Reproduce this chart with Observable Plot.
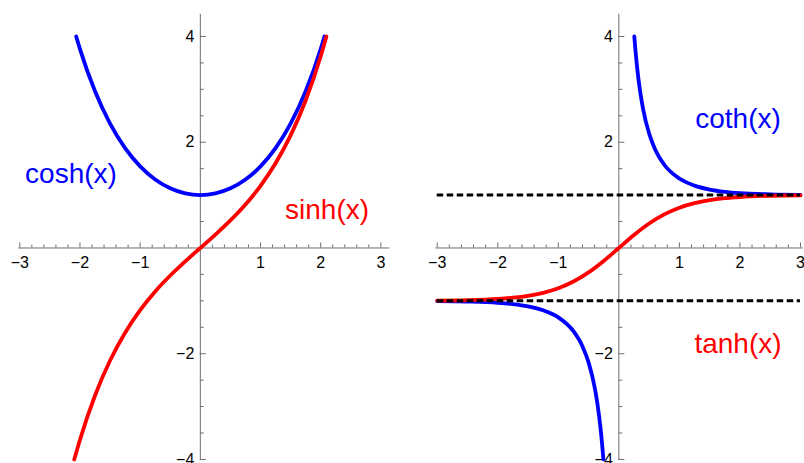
<!DOCTYPE html>
<html><head><meta charset="utf-8">
<script src="https://cdn.jsdelivr.net/npm/d3@7"></script>
<script src="https://cdn.jsdelivr.net/npm/@observablehq/plot@0.6"></script>
<style>
html,body{margin:0;padding:0;background:#fff;}
#wrap{display:flex;width:804px;height:463px;overflow:hidden;}
#wrap svg{display:block;flex:none;}
</style></head><body><div id="wrap"></div>
<script>
// ---- Data ----
const coshX = [-2.063,-2,-1.75,-1.5,-1.25,-1,-0.75,-0.5,-0.25,0,0.25,0.5,0.75,1,1.25,1.5,1.75,2,2.063];
const coshY = [4.0,3.762,2.964,2.352,1.888,1.543,1.295,1.128,1.031,1,1.031,1.128,1.295,1.543,1.888,2.352,2.964,3.762,4.0];
const sinhX = [-2.095,-2,-1.75,-1.5,-1.25,-1,-0.75,-0.5,-0.25,0,0.25,0.5,0.75,1,1.25,1.5,1.75,2,2.095];
const sinhY = [-4.0,-3.627,-2.790,-2.129,-1.602,-1.175,-0.822,-0.521,-0.253,0,0.253,0.521,0.822,1.175,1.602,2.129,2.790,3.627,4.0];
const tanhX = [-3,-2.5,-2,-1.75,-1.5,-1.25,-1,-0.75,-0.5,-0.25,0,0.25,0.5,0.75,1,1.25,1.5,1.75,2,2.5,3];
const tanhY = [-0.995,-0.987,-0.964,-0.941,-0.905,-0.848,-0.762,-0.635,-0.462,-0.245,0,0.245,0.462,0.635,0.762,0.848,0.905,0.941,0.964,0.987,0.995];
const cothPosX = [0.2554,0.275,0.3,0.35,0.4,0.5,0.6,0.75,1,1.25,1.5,1.75,2,2.5,3];
const cothPosY = [4.0,3.728,3.433,2.973,2.632,2.164,1.862,1.574,1.313,1.179,1.105,1.062,1.037,1.014,1.005];
const cothNegX = [-3,-2.5,-2,-1.75,-1.5,-1.25,-1,-0.75,-0.6,-0.5,-0.4,-0.35,-0.3,-0.275,-0.2554];
const cothNegY = [-1.005,-1.014,-1.037,-1.062,-1.105,-1.179,-1.313,-1.574,-1.862,-2.164,-2.632,-2.973,-3.433,-3.728,-4.0];
const asymptotes = [-1, 1];

const xMajor = [-3,-2,-1,1,2,3];
const xTickLabels = ["−3","−2","−1","1","2","3"];
const yMajor = [-4,-2,2,4];
const yTickLabels = ["−4","−2","2","4"];

const FONT = "'Liberation Sans', Arial, sans-serif";
const AXIS = "#6e6e6e";
const BLUE = "#0000ff", RED = "#ff0000";

const pts = (xs, ys) => xs.map((x, i) => ({x, y: ys[i]}));
const xMinor = d3.range(-30, 31, 2).map(d => d / 10).filter(d => Math.abs(d - Math.round(d)) > 1e-9);
const yMinor = d3.range(-8, 9, 1).map(d => d / 2).filter(d => d % 2 !== 0);

function axes(xDom, yDom) {
  return [
    Plot.ruleY([0], {x1: xDom[0], x2: xDom[1], stroke: AXIS, strokeWidth: 1}),
    Plot.ruleX([0], {y1: yDom[0], y2: yDom[1], stroke: AXIS, strokeWidth: 1}),
    Plot.ruleX(xMajor, {x: d => d, y1: 0, y2: 0, insetTop: -5, stroke: AXIS}),
    Plot.ruleX(xMinor, {x: d => d, y1: 0, y2: 0, insetTop: -3, stroke: AXIS}),
    Plot.ruleY(yMajor, {y: d => d, x1: 0, x2: 0, insetRight: -6, stroke: AXIS}),
    Plot.ruleY(yMinor, {y: d => d, x1: 0, x2: 0, insetRight: -4, stroke: AXIS}),
    Plot.text(xMajor.map((v, i) => ({v, t: xTickLabels[i]})), {x: "v", y: 0, text: "t", dy: 15, fontSize: 16, fill: "#000", fontFamily: FONT}),
    Plot.text(yMajor.map((v, i) => ({v, t: yTickLabels[i]})), {x: 0, y: "v", text: "t", dx: -6, textAnchor: "end", fontSize: 16, fill: "#000", fontFamily: FONT})
  ];
}

const yDom = [-4.02, 4.42];
const common = {width: 402, height: 463, marginTop: 13.8, marginBottom: 3};

const xDomL = [-3.02, 3.15];
const left = Plot.plot({
  ...common, marginLeft: 18.1, marginRight: 12.6,
  x: {domain: xDomL, axis: null},
  y: {domain: yDom, axis: null},
  marks: [
    ...axes(xDomL, yDom),
    Plot.line(pts(coshX, coshY), {x: "x", y: "y", stroke: BLUE, strokeWidth: 3.8, curve: "monotone-x"}),
    Plot.line(pts(sinhX, sinhY), {x: "x", y: "y", stroke: RED, strokeWidth: 3.8, curve: "monotone-x"}),
    Plot.text(["cosh(x)"], {x: -2.149, y: 1.22, text: d => d, lineAnchor: "bottom", fontSize: 28, fill: BLUE, fontFamily: FONT}),
    Plot.text(["sinh(x)"], {x: 2.105, y: 0.539, text: d => d, lineAnchor: "bottom", fontSize: 28, fill: RED, fontFamily: FONT})
  ]
});

const xDomR = [-3.02, 3.05];
const right = Plot.plot({
  ...common, marginLeft: 33.5, marginRight: 1.0,
  x: {domain: xDomR, axis: null},
  y: {domain: yDom, axis: null},
  marks: [
    ...axes(xDomR, yDom),
    Plot.line(pts(cothPosX, cothPosY), {x: "x", y: "y", stroke: BLUE, strokeWidth: 3.8, curve: "monotone-x"}),
    Plot.line(pts(cothNegX, cothNegY), {x: "x", y: "y", stroke: BLUE, strokeWidth: 3.8, curve: "monotone-x"}),
    Plot.line(pts(tanhX, tanhY), {x: "x", y: "y", stroke: RED, strokeWidth: 3.8, curve: "monotone-x"}),
    Plot.ruleY(asymptotes, {y: d => d, x1: -3, x2: 3, stroke: "#000", strokeWidth: 3, strokeDasharray: "6.5,3.5"}),
    Plot.text(["coth(x)"], {x: 1.968, y: 2.26, text: d => d, lineAnchor: "bottom", fontSize: 28, fill: BLUE, fontFamily: FONT}),
    Plot.text(["tanh(x)"], {x: 1.968, y: -1.995, text: d => d, lineAnchor: "bottom", fontSize: 28, fill: RED, fontFamily: FONT})
  ]
});

document.getElementById("wrap").append(left, right);
</script></body></html>
